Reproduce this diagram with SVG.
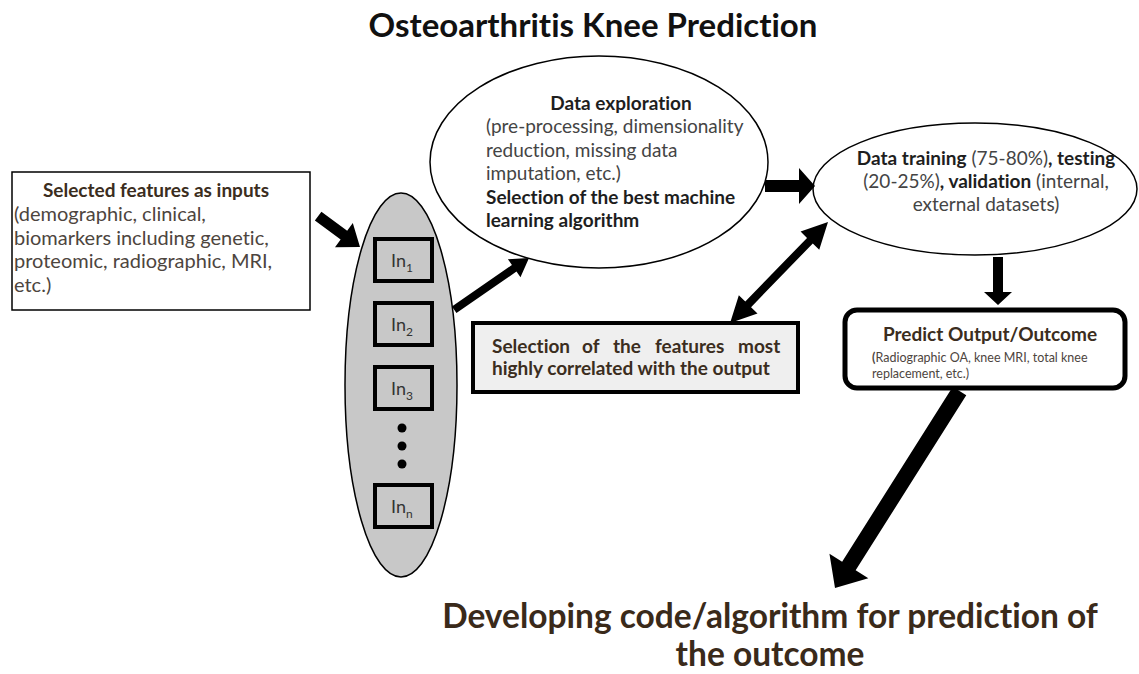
<svg xmlns="http://www.w3.org/2000/svg" width="1139" height="674" viewBox="0 0 1139 674">
  <style>
    text { font-family: Lato, "Open Sans", "Liberation Sans", sans-serif; font-variant-ligatures: none; }
    .title { font-size: 33px; font-weight: 700; fill: #111; }
    .head { font-size: 19px; font-weight: 700; fill: #3b2d20; }
    .body { font-size: 20px; fill: #4d453e; }
    .dark { font-size: 19px; font-weight: 700; fill: #1e1e1e; }
    .grey { font-size: 19px; fill: #444; }
    .small { font-size: 12.5px; fill: #4d453e; }
    .big { font-size: 33.5px; font-weight: 700; fill: #3a2a1a; }
    .inlabel { font-size: 18px; fill: #333; }
    .insub { font-size: 12px; fill: #333; }
    .inbox { fill: #c8c8c8; stroke: #000; stroke-width: 4; }
    .arrow { fill: #000; }
  </style>

  <rect width="1139" height="674" fill="#fff"/>

  <text class="title" x="593" y="37" text-anchor="middle">Osteoarthritis Knee Prediction</text>

  <!-- input feature description -->
  <g id="inputs">
    <rect x="12" y="172" width="298" height="138" fill="#fff" stroke="#000" stroke-width="1.5"/>
    <text class="head" x="156" y="197" text-anchor="middle">Selected features as inputs</text>
    <text class="body" x="14" y="221">(demographic, clinical,</text>
    <text class="body" x="14" y="245">biomarkers including genetic,</text>
    <text class="body" x="14" y="268">proteomic, radiographic, MRI,</text>
    <text class="body" x="14" y="292">etc.)</text>
  </g>

  <!-- input vector In1..In_n -->
  <g id="input-vector">
    <ellipse cx="401" cy="385" rx="56" ry="192" fill="#c8c8c8" stroke="#000" stroke-width="1.5"/>
    <rect class="inbox" x="375" y="239" width="57" height="42"/>
    <text class="inlabel" x="391" y="267">In<tspan class="insub" dy="5">1</tspan></text>
    <rect class="inbox" x="375" y="303" width="57" height="42"/>
    <text class="inlabel" x="391" y="331">In<tspan class="insub" dy="5">2</tspan></text>
    <rect class="inbox" x="375" y="367" width="57" height="42"/>
    <text class="inlabel" x="391" y="395">In<tspan class="insub" dy="5">3</tspan></text>
    <circle cx="402" cy="428" r="4.5" fill="#000"/>
    <circle cx="402" cy="446" r="4.5" fill="#000"/>
    <circle cx="402" cy="464" r="4.5" fill="#000"/>
    <rect class="inbox" x="375" y="485" width="57" height="42"/>
    <text class="inlabel" x="391" y="513">In<tspan class="insub" dy="5">n</tspan></text>
  </g>

  <!-- data exploration -->
  <g id="exploration">
    <ellipse cx="599" cy="162" rx="169" ry="106" fill="#fff" stroke="#000" stroke-width="1.5"/>
    <text class="dark" x="621" y="110" text-anchor="middle">Data exploration</text>
    <text class="grey" x="486" y="133">(pre-processing, dimensionality</text>
    <text class="grey" x="486" y="157">reduction, missing data</text>
    <text class="grey" x="486" y="180">imputation, etc.)</text>
    <text class="dark" x="486" y="204">Selection of the best machine</text>
    <text class="dark" x="486" y="227">learning algorithm</text>
  </g>

  <!-- training / testing / validation -->
  <g id="training">
    <ellipse cx="975" cy="189" rx="162" ry="66" fill="#fff" stroke="#000" stroke-width="1.5"/>
    <text class="grey" x="986" y="165" text-anchor="middle"><tspan class="dark">Data training</tspan> (75-80%)<tspan class="dark">, testing</tspan></text>
    <text class="grey" x="986" y="188" text-anchor="middle">(20-25%)<tspan class="dark">, validation</tspan> (internal,</text>
    <text class="grey" x="986" y="211" text-anchor="middle">external datasets)</text>
  </g>

  <!-- feature selection -->
  <g id="feature-selection">
    <rect x="473" y="323" width="325" height="69" fill="#efefef" stroke="#000" stroke-width="4"/>
    <text class="head" y="353"><tspan x="492">Selection</tspan><tspan x="582">of</tspan><tspan x="613">the</tspan><tspan x="655">features</tspan><tspan x="738">most</tspan></text>
    <text class="head" x="492" y="375">highly correlated with the output</text>
  </g>

  <!-- prediction target -->
  <g id="predict">
    <rect x="845" y="310" width="280" height="78" rx="12" ry="12" fill="#fff" stroke="#000" stroke-width="5"/>
    <text class="head" x="990" y="341" text-anchor="middle">Predict Output/Outcome</text>
    <text class="small" x="872" y="362"><tspan font-weight="700">(</tspan>Radiographic OA, knee MRI, total knee</text>
    <text class="small" x="872" y="378">replacement, etc.)</text>
  </g>

  <!-- block arrows: drawn pointing along +x with the tip at the origin -->
  <g id="connectors" class="arrow">
    <polygon transform="translate(360 247) rotate(36.4)" points="-52,-5.5 -20,-5.5 -20,-15 0,0 -20,15 -20,5.5 -52,5.5"/>
    <polygon transform="translate(529 258) rotate(-34.7)" points="-91,-4 -18,-4 -18,-11 0,0 -18,11 -18,4 -91,4"/>
    <polygon transform="translate(815 186) rotate(0)" points="-50,-6 -16,-6 -16,-18 0,0 -16,18 -16,6 -50,6"/>
    <polygon transform="translate(828 222) rotate(-45.9)" points="0,0 -26,-13 -26,-4 -114.7,-4 -114.7,-13 -140.7,0 -114.7,13 -114.7,4 -26,4 -26,13"/>
    <polygon transform="translate(998 305) rotate(90)" points="-48,-5 -13,-5 -13,-14 0,0 -13,14 -13,5 -48,5"/>
    <polygon transform="translate(835 588) rotate(122.3)" points="-233,-8 -26,-8 -26,-23 0,0 -26,23 -26,8 -233,8"/>
  </g>

  <g id="conclusion">
    <text class="big" x="770" y="628" text-anchor="middle">Developing code/algorithm for prediction of</text>
    <text class="big" x="770" y="666" text-anchor="middle">the outcome</text>
  </g>
</svg>
